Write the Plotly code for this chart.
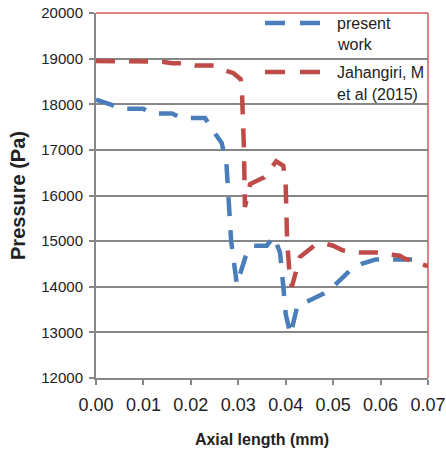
import plotly.graph_objects as go

# Data
present_x = [0.000, 0.003, 0.005, 0.010, 0.0115, 0.016, 0.018, 0.023, 0.0245, 0.0265,
             0.0275, 0.0285, 0.0297, 0.0315, 0.0328, 0.036, 0.0375, 0.0388, 0.0395,
             0.0400, 0.0410, 0.0425, 0.045, 0.048, 0.050, 0.052, 0.054, 0.056, 0.059,
             0.064, 0.068]
present_y = [18100, 18000, 17900, 17900, 17800, 17800, 17700, 17700, 17450, 17150,
             16700, 15000, 14050, 14650, 14900, 14900, 15100, 14750, 14000,
             13400, 12950, 13600, 13700, 13850, 14000, 14200, 14400, 14500, 14600,
             14600, 14600]

jah_x = [0.000, 0.014, 0.016, 0.019, 0.021, 0.025, 0.027, 0.029, 0.0305, 0.0308,
         0.0312, 0.0314, 0.0325, 0.0355, 0.038, 0.0395, 0.0400, 0.0403, 0.0408,
         0.0413, 0.043, 0.046, 0.048, 0.050, 0.052, 0.054, 0.059, 0.062, 0.064,
         0.065, 0.067, 0.070]
jah_y = [18950, 18930, 18900, 18900, 18850, 18850, 18750, 18680, 18550, 18200,
         17000, 15750, 16250, 16400, 16750, 16650, 16200, 15000, 14300,
         14000, 14650, 14900, 14950, 14900, 14800, 14750, 14750, 14700, 14680,
         14620, 14550, 14450]

series_names = ["present work", "Jahangiri, M et al (2015)"]
legend_lines = [["present", "work"], ["Jahangiri, M", "et al (2015)"]]

x_ticks = [0.00, 0.01, 0.02, 0.03, 0.04, 0.05, 0.06, 0.07]
y_ticks = [12000, 13000, 14000, 15000, 16000, 17000, 18000, 19000, 20000]

BLUE = "#4a7ebb"
RED = "#be4b48"
GRID = "#868686"
BORDER = "#d05a5a"
TXT = "#222222"
FONT = "Liberation Sans, Arial, sans-serif"
DASH = "19px,14px"

fig = go.Figure()
fig.add_trace(go.Scatter(x=present_x, y=present_y, mode="lines", name=series_names[0],
                         showlegend=False,
                         line=dict(color=BLUE, width=4.5, dash=DASH)))
fig.add_trace(go.Scatter(x=jah_x, y=jah_y, mode="lines", name=series_names[1],
                         showlegend=False,
                         line=dict(color=RED, width=4.5, dash=DASH)))

# Manual legend (placed in paper coordinates, like the reference's inset legend)
plot_l, plot_r, plot_t, plot_b = 96, 428, 13, 378
def px_x(p):
    return (p - plot_l) / (plot_r - plot_l)
def px_y(p):
    return (plot_b - p) / (plot_b - plot_t)

shapes = [
    dict(type="line", xref="paper", yref="paper", x0=0, x1=1, y0=1, y1=1,
         line=dict(color=BORDER, width=1.5)),
    dict(type="line", xref="paper", yref="paper", x0=1, x1=1, y0=0, y1=1,
         line=dict(color=BORDER, width=1.5)),
]
annotations = []
for color, ly, lines, ty in [(BLUE, 23, legend_lines[0], [23, 45]),
                             (RED, 72, legend_lines[1], [72, 95])]:
    shapes.append(dict(type="line", xref="paper", yref="paper",
                       x0=px_x(265), x1=px_x(322), y0=px_y(ly), y1=px_y(ly),
                       line=dict(color=color, width=4.5, dash="20px,15px")))
    for txt, yy in zip(lines, ty):
        annotations.append(dict(text=txt, xref="paper", yref="paper",
                                x=px_x(335), y=px_y(yy), xanchor="left", yanchor="middle",
                                showarrow=False, font=dict(size=16, color=TXT, family=FONT)))

fig.update_layout(
    width=446, height=453,
    margin=dict(l=plot_l, r=446 - plot_r, t=plot_t, b=453 - plot_b, autoexpand=False),
    paper_bgcolor="white", plot_bgcolor="white",
    font=dict(family=FONT, color=TXT),
    showlegend=False,
    xaxis=dict(range=[0, 0.07], tickvals=x_ticks, tickformat=".2f",
               showgrid=False, zeroline=False, automargin=False,
               showline=True, linecolor=GRID, linewidth=2,
               ticks="outside", ticklen=5, tickwidth=2, tickcolor=GRID,
               ticklabelstandoff=4,
               tickfont=dict(size=18, color=TXT),
               title=dict(text="<b>Axial length (mm)</b>", font=dict(size=16, color=TXT),
                          standoff=20)),
    yaxis=dict(range=[12000, 20000], tickvals=y_ticks, tickformat="d",
               showgrid=True, gridcolor=GRID, gridwidth=2, zeroline=False, automargin=False,
               showline=True, linecolor=GRID, linewidth=2,
               ticks="outside", ticklen=5, tickwidth=2, tickcolor=GRID,
               ticklabelstandoff=3,
               tickfont=dict(size=15, color=TXT),
               title=dict(text="<b>Pressure (Pa)</b>", font=dict(size=20, color=TXT),
                          standoff=10)),
    shapes=shapes,
    annotations=annotations,
)

fig.write_html("out.html")
